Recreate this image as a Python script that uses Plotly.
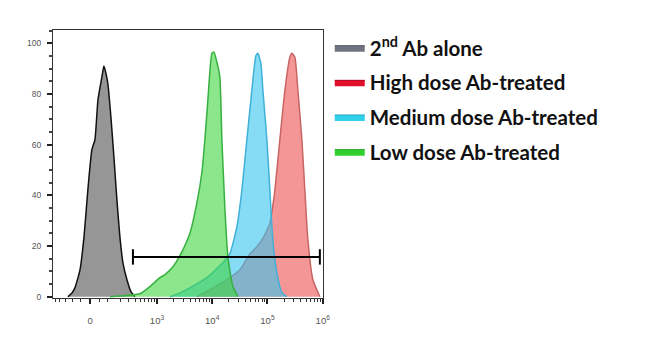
import numpy as np
import plotly.graph_objects as go

# ---- data (fluorescence intensity, % of max) ----
gray_x = [-132, -103, -84, -54, -32, -12, 9, 25, 41, 63, 75, 88, 100, 121, 144, 169, 196, 227, 274, 328, 390]
gray_y = [0, 1.5, 3.5, 10.6, 23.6, 42, 58, 62, 77.6, 86.6, 91, 88, 84, 71, 55, 38, 23.7, 13.4, 6.7, 2, 0]

red_x = [5288, 10300, 18450, 31700, 48100, 64300, 82570, 110500, 125200, 136100, 167500, 206500,
         254100, 276100, 312600, 354800, 418800, 474300, 538200, 662200, 886600]
red_y = [0, 3.5, 6.7, 10.6, 17, 19.7, 23, 29, 36, 42, 62, 81.5, 94.5, 96, 94.5, 81.5, 62, 42, 22.4, 6.7, 0]

cyan_x = [1718, 2606, 3952, 8017, 15590, 20890, 27970, 34440, 42420, 52230, 61660, 67060, 75970,
          82570, 97500, 110500, 125200, 147900, 182100, 224300]
cyan_y = [0, 1.5, 3.5, 7.5, 13.4, 17, 27.6, 42, 62, 81.5, 95, 96, 92, 81.5, 62, 42, 22, 9.4, 1.6, 0]

green_x = [114, 249, 485, 742, 1128, 1395, 1947, 2953, 3952, 5288, 6512, 7379, 8356, 9877, 10733,
           12162, 13772, 14977, 16970, 19224, 23670, 29150]
green_y = [0, 0.5, 1.2, 4, 7.5, 8.7, 11.8, 18.5, 25, 37, 49, 62, 77.6, 96, 96.5, 92.5, 86.6, 62,
           35, 15.7, 4, 0]

gate_x = [358, 886000]
gate_y = [15.7, 15.7]

series_names = ["2<sup>nd</sup> Ab alone", "High dose Ab-treated", "Medium dose Ab-treated", "Low dose Ab-treated"]
x_major = [0, 1e3, 1e4, 1e5, 1e6]
x_major_text = ["0", "10<sup>3</sup>", "10<sup>4</sup>", "10<sup>5</sup>", "10<sup>6</sup>"]
x_minor = [-250, -200, -150, -100, -50, 50, 100, 200, 300, 400, 500, 600, 700, 800, 900] + \
          [m * 10 ** k for k in (3, 4, 5) for m in range(2, 10)]
x_lim = [-278, 1.01e6]
y_lim = [-0.5, 105.2]

# biexponential-like display transform
C = 62.0
def T(v):
    v = np.asarray(v, dtype=float)
    return np.log10((v + np.sqrt(v * v + 4 * C * C)) / 2)

fills = ["rgba(80,80,80,0.6)", "rgba(238,80,80,0.6)", "rgba(55,197,238,0.6)", "rgba(63,213,63,0.6)"]
lines = ["#111111", "#c86464", "#3fb0d8", "#38b040"]
swatch_fill = ["#707480", "#e0102a", "#30d0ea", "#30d030"]
swatch_line = ["#50545c", "#b00018", "#20a8c8", "#20a020"]

fig = go.Figure()
data = [(gray_x, gray_y), (red_x, red_y), (cyan_x, cyan_y), (green_x, green_y)]
for i, (xs, ys) in enumerate(data):
    fig.add_trace(go.Scatter(x=T(xs), y=ys, mode="lines", fill="tozeroy",
                             fillcolor=fills[i], line=dict(color=lines[i], width=1.5, shape="spline", smoothing=0.5),
                             showlegend=False, hoverinfo="skip"))
for i, nm in enumerate(series_names):
    fig.add_trace(go.Scatter(x=[None], y=[None], mode="lines", fill="toself", name=nm,
                             fillcolor=swatch_fill[i], line=dict(color=swatch_line[i], width=1),
                             legendgroup=str(i)))

fig.add_trace(go.Scatter(x=T(gate_x), y=gate_y, mode="lines+markers",
                         line=dict(color="black", width=2),
                         marker=dict(symbol="line-ns", size=11, line=dict(color="black", width=2)),
                         showlegend=False, hoverinfo="skip"))

fig.update_layout(
    width=650, height=354,
    margin=dict(l=53, r=327, t=30, b=56),
    plot_bgcolor="white", paper_bgcolor="white",
    legend=dict(x=1.025, y=1.008, xanchor="left", yanchor="top",
                font=dict(family="Lato", size=20.5, color="#111111", weight="bold"),
                tracegroupgap=5, bgcolor="rgba(0,0,0,0)", itemwidth=30),
)
fig.update_xaxes(range=list(T(x_lim)), tickmode="array", tickvals=list(T(x_major)), ticktext=x_major_text,
                 ticks="outside", ticklen=5, tickwidth=1.5, tickcolor="#222",
                 minor=dict(tickvals=list(T(x_minor)), ticks="outside", ticklen=3, tickcolor="#333", tickwidth=1),
                 showgrid=False, zeroline=False, showline=True, linecolor="#333", linewidth=1, mirror=True,
                 tickfont=dict(family="Liberation Sans", size=9.5, color="#555"), ticklabelstandoff=9)
fig.update_yaxes(range=y_lim, tickvals=[0, 20, 40, 60, 80, 100], ticks="outside", ticklen=5, tickwidth=1.5,
                 tickcolor="#222", minor=dict(dtick=5, ticks="outside", ticklen=3, tickcolor="#444"),
                 showgrid=False, zeroline=False, showline=True, linecolor="#333", linewidth=1, mirror=True,
                 tickfont=dict(family="Liberation Sans", size=8.5, color="#555"), ticklabelstandoff=4)

fig.write_html("out.html")
